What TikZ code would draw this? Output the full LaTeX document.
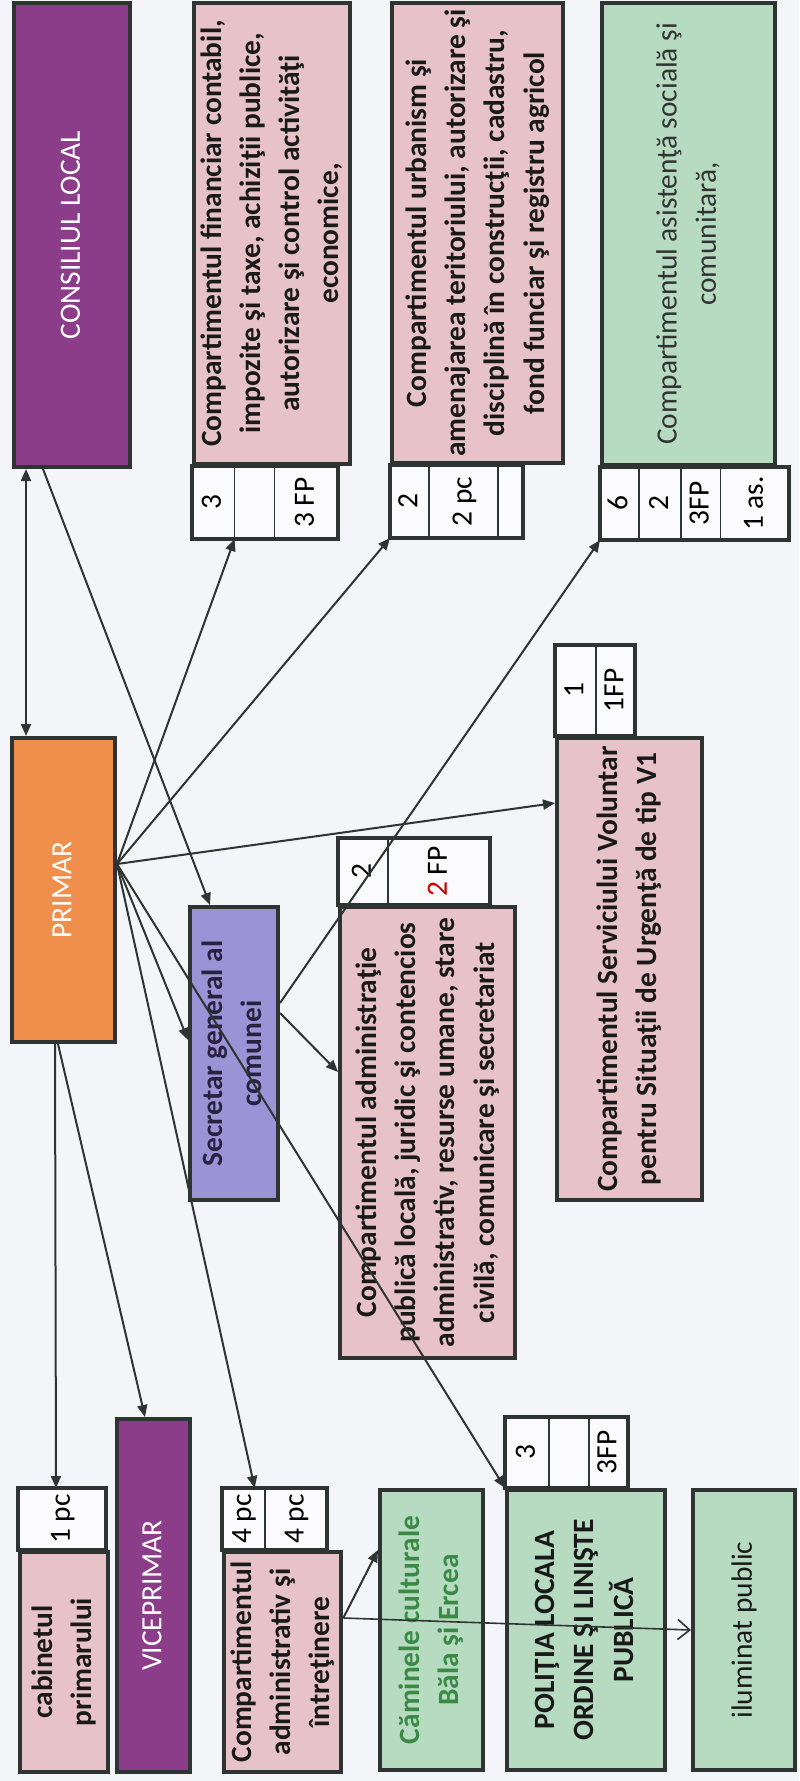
\documentclass[tikz,border=0pt]{standalone}
\usepackage{fontspec}
\setmainfont{Carlito}
\usepackage{xcolor}
\usetikzlibrary{positioning,calc,arrows.meta}

\definecolor{bgpaper}{HTML}{F4F5F9}
\definecolor{framegray}{HTML}{2E3432}
\definecolor{purpleboss}{HTML}{8C3D8A}
\definecolor{orangeboss}{HTML}{EF8F4B}
\definecolor{pinkbox}{HTML}{E7C2C8}
\definecolor{greenbox}{HTML}{B6DBC1}
\definecolor{lilacbox}{HTML}{9C92D6}
\definecolor{greentext}{HTML}{3A8A45}
\definecolor{cellfill}{HTML}{FBFBFD}

% text turned to read upwards
\newcommand{\vtxt}[1]{\rotatebox{90}{\begin{tabular}{@{}c@{}}#1\end{tabular}}}

\tikzset{
  unit/.style={draw=framegray, line width=2pt, inner sep=0pt,
    font=\fontsize{14.7}{19.6}\selectfont, text=black!90},
  headunit/.style={unit, fill=purpleboss, text=white},
  pinkunit/.style={unit, fill=pinkbox, font=\fontsize{14.7}{19.6}\selectfont\bfseries},
  greenunit/.style={unit, fill=greenbox},
  cell/.style={draw=framegray, line width=0.8pt, fill=cellfill, inner sep=0pt,
    outer sep=0pt, font=\fontsize{14.7}{19.6}\selectfont},
  cellframe/.style={draw=framegray, line width=2pt},
  link/.style={draw=framegray, line width=1pt, -{Triangle[length=6pt,width=5pt]}},
  linkboth/.style={link, {Triangle[length=6pt,width=5pt]}-{Triangle[length=6pt,width=5pt]}},
  thinlink/.style={draw=framegray, line width=0.8pt, -{Straight Barb[length=6pt,width=10pt]}}
}

\begin{document}
\begin{tikzpicture}[x=0.5pt, y=-0.5pt]
  \useasboundingbox (0,0) rectangle (799,1781);
  \fill[bgpaper] (0,0) rectangle (799,1781);

  % top row
  \node[headunit, minimum width=58pt, minimum height=232pt] (consiliul) at (72,235) {\vtxt{CONSILIUL LOCAL}};
  \node[pinkunit, minimum width=73pt, minimum height=230.5pt] (fin) at (272,233.5)
    {\vtxt{Compartimentul financiar contabil,\\impozite ş{}i taxe, achiziţii publice,\\autorizare şi control activităţi\\economice,}};
  \node[pinkunit, minimum width=85.5pt, minimum height=230pt] (urb) at (477.5,233)
    {\vtxt{Compartimentul urbanism şi\\amenajarea teritoriului, autorizare şi\\disciplină în construcţii, cadastru,\\fond funciar şi registru agricol}};
  \node[greenunit, minimum width=86.5pt, minimum height=231pt, text=black!80] (asist) at (688.5,234)
    {\vtxt{Compartimentul asistenţă socială şi\\comunitară,}};

  % cells under the top row
  \node[cell, minimum width=21.5pt, minimum height=36.5pt, anchor=north west] (f1) at (fin.south west) {\vtxt{3}};
  \node[cell, minimum width=20pt, minimum height=36.5pt, right=0pt of f1] (f2) {};
  \node[cell, minimum width=31.5pt, minimum height=36.5pt, right=0pt of f2] (f3) {\vtxt{3 FP}};
  \draw[cellframe] (f1.north west) rectangle (f3.south east);

  \node[cell, minimum width=16.5pt, minimum height=36.5pt, anchor=north west] (u1) at (urb.south west) {\vtxt{2}};
  \node[cell, minimum width=34.5pt, minimum height=36.5pt, right=0pt of u1] (u2) {\vtxt{2 pc}};
  \node[cell, minimum width=12.5pt, minimum height=36.5pt, right=0pt of u2] (u3) {};
  \draw[cellframe] (u1.north west) rectangle (u3.south east);

  \node[cell, minimum width=16pt, minimum height=36.5pt, anchor=north west] (s1) at (asist.south west) {\vtxt{6}};
  \node[cell, minimum width=21pt, minimum height=36.5pt, right=0pt of s1] (s2) {\vtxt{2}};
  \node[cell, minimum width=15.5pt, minimum height=36.5pt, right=0pt of s2] (s3) {\vtxt{3FP}};
  \node[cell, minimum width=34.5pt, minimum height=36.5pt, right=0pt of s3] (s4) {\vtxt{1 as.}};
  \draw[cellframe] (s1.north west) rectangle (s4.south east);

  % middle
  \node[unit, fill=orangeboss, text=white, minimum width=51.5pt, minimum height=152pt] (primar) at (63.5,890) {\vtxt{PRIMAR}};
  \node[unit, fill=lilacbox, text={rgb,255:red,40;green,34;blue,64}, font=\fontsize{14.7}{19.6}\selectfont\bfseries,
    minimum width=44pt, minimum height=146.5pt] (secretar) at (234,1053.5)
    {\vtxt{Secretar general al\\comunei}};
  \node[pinkunit, minimum width=87.5pt, minimum height=225.5pt] (admin) at (427.5,1132.5)
    {\vtxt{Compartimentul administraţie\\publică locală, juridic şi contencios\\administrativ, resurse umane, stare\\civilă, comunicare şi secretariat}};
  \node[pinkunit, minimum width=72.5pt, minimum height=231pt] (urgenta) at (629.5,969)
    {\vtxt{Compartimentul Serviciului Voluntar\\pentru Situaţii de Urgenţă de tip V1}};

  \node[cell, minimum width=25pt, minimum height=33.5pt, anchor=south west] (a1) at (admin.north west) {\vtxt{2}};
  \node[cell, minimum width=51pt, minimum height=33.5pt, right=0pt of a1] (a2) {\vtxt{\textcolor{red!80!black}{2} FP}};
  \draw[cellframe] (a1.north west) rectangle (a2.south east);

  \node[cell, minimum width=20.5pt, minimum height=45.5pt, anchor=south west] (g1) at (urgenta.north west) {\vtxt{1}};
  \node[cell, minimum width=16pt, minimum height=45.5pt, right=0pt of g1] (g2) {\vtxt{1FP}};
  \draw[cellframe] (g1.north west) rectangle (g2.south east);

  % bottom row
  \node[pinkunit, minimum width=44pt, minimum height=110pt] (cab) at (64,1662) {\vtxt{cabinetul\\primarului}};
  \node[headunit, minimum width=36.5pt, minimum height=176.5pt] (vice) at (153.5,1595.5) {\vtxt{VICEPRIMAR}};
  \node[pinkunit, minimum width=52.5pt, minimum height=110pt] (compadm) at (282.5,1662)
    {\vtxt{Compartimentul\\administrativ şi\\întreţinere}};
  \node[greenunit, text=greentext, font=\fontsize{14.7}{19.6}\selectfont\bfseries, minimum width=51.5pt, minimum height=140pt] (camine) at (431.5,1630)
    {\vtxt{Căminele culturale\\Băla şi Ercea}};
  \node[greenunit, font=\fontsize{14.7}{19.6}\selectfont\bfseries, minimum width=79pt, minimum height=140pt] (politia) at (586,1630)
    {\vtxt{POLIŢIA LOCALA\\ORDINE ŞI LINIŞTE\\PUBLICĂ}};
  \node[greenunit, minimum width=51pt, minimum height=140pt] (iluminat) at (744,1630) {\vtxt{iluminat public}};

  \node[cell, minimum width=44pt, minimum height=31pt, anchor=south west] (c1) at (cab.north west) {\vtxt{1 pc}};
  \draw[cellframe] (c1.north west) rectangle (c1.south east);

  \node[cell, minimum width=21.5pt, minimum height=31pt, anchor=south west] (m1) at (compadm.north west) {\vtxt{4 pc}};
  \node[cell, minimum width=31pt, minimum height=31pt, right=0pt of m1] (m2) {\vtxt{4 pc}};
  \draw[cellframe] (m1.north west) rectangle (m2.south east);

  \node[cell, minimum width=22pt, minimum height=35.5pt, anchor=south west] (p1) at (politia.north west) {\vtxt{3}};
  \node[cell, minimum width=20pt, minimum height=35.5pt, right=0pt of p1] (p2) {};
  \node[cell, minimum width=16pt, minimum height=35.5pt, right=0pt of p2] (p3) {\vtxt{3FP}};
  \draw[cellframe] (p1.north west) rectangle (p3.south east);

  % connectors
  \coordinate (fan) at ([yshift=13pt]primar.east);
  \draw[linkboth] ([xshift=-23pt]consiliul.south) -- ([xshift=-23pt]consiliul.south |- primar.north);
  \draw[link] ([xshift=-14.5pt]consiliul.south) -- ([xshift=-12pt]secretar.north);
  \draw[link] (fan) -- (f1.south east);
  \draw[link] (fan) -- (u1.south west);
  \draw[link] (fan) -- ([yshift=83pt]urgenta.west);
  \draw[link] (fan) -- ([yshift=6.75pt]secretar.west);
  \draw[link] (fan) -- (politia.north west);
  \draw[link] (fan) -- ([xshift=-5pt]m1.north east);
  \draw[link] ([xshift=-4.25pt]primar.south) -- ([xshift=-3pt]c1.north);
  \draw[link] ([xshift=-2.75pt]primar.south) -- ([xshift=-4.25pt]vice.north);
  \draw[link] ([yshift=20.25pt]secretar.east) -- ([yshift=30.25pt]admin.west);
  \draw[link] ([yshift=25.25pt]secretar.east) -- (s1.south west);
  % from the administrative office
  \coordinate (cfan) at ([yshift=22pt]compadm.east);
  \draw[link] (cfan) -- ([yshift=40pt]camine.west);
  \draw[thinlink] (cfan) -- (iluminat.west);
\end{tikzpicture}
\end{document}
